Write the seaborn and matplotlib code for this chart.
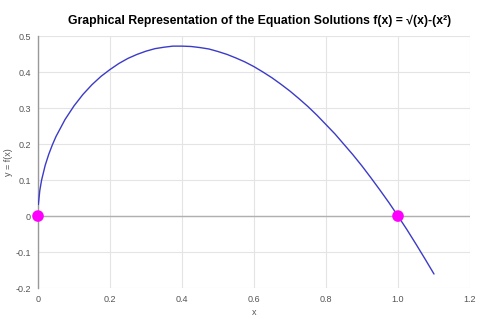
import matplotlib
matplotlib.use("Agg")
import matplotlib.pyplot as plt
import seaborn as sns
import pandas as pd

# Curve points
x_vals = [0.001, 0.005, 0.01, 0.02, 0.03, 0.04, 0.05, 0.075, 0.1, 0.125, 0.15, 0.175,
          0.2, 0.225, 0.25, 0.275, 0.3, 0.325, 0.35, 0.375, 0.4, 0.425, 0.45, 0.475,
          0.5, 0.525, 0.55, 0.575, 0.6, 0.625, 0.65, 0.675, 0.7, 0.725, 0.75, 0.775,
          0.8, 0.825, 0.85, 0.875, 0.9, 0.925, 0.95, 0.975, 1.0, 1.025, 1.05, 1.075, 1.1]
y_vals = [0.032, 0.071, 0.100, 0.141, 0.172, 0.198, 0.221, 0.268, 0.306, 0.338,
          0.365, 0.388, 0.407, 0.424, 0.438, 0.449, 0.458, 0.465, 0.469, 0.472,
          0.472, 0.471, 0.468, 0.464, 0.457, 0.449, 0.439, 0.428, 0.415, 0.400,
          0.384, 0.366, 0.347, 0.326, 0.304, 0.280, 0.254, 0.228, 0.199, 0.170,
          0.139, 0.106, 0.072, 0.037, 0.0, -0.038, -0.078, -0.119, -0.161]
# Solutions
sol_x = [0.0, 1.0]
sol_y = [0.0, 0.0]

x_ticks = [0, 0.2, 0.4, 0.6, 0.8, 1.0, 1.2]
x_tick_labels = ["0", "0.2", "0.4", "0.6", "0.8", "1.0", "1.2"]
y_ticks = [-0.2, -0.1, 0, 0.1, 0.2, 0.3, 0.4, 0.5]
y_tick_labels = ["-0.2", "-0.1", "0", "0.1", "0.2", "0.3", "0.4", "0.5"]

sns.set_style("white")
plt.rcParams['font.family'] = ['Liberation Sans', 'DejaVu Sans']

fig = plt.figure(figsize=(5.0, 3.19), dpi=100)
ax = fig.add_axes([0.076, 0.097, 0.864, 0.790])

curve = pd.DataFrame({"x": x_vals, "y": y_vals})
sols = pd.DataFrame({"x": sol_x, "y": sol_y})

ax.set_xlim(0, 1.2)
ax.set_ylim(-0.2, 0.5)
ax.set_xticks(x_ticks)
ax.set_xticklabels(x_tick_labels)
ax.set_yticks(y_ticks)
ax.set_yticklabels(y_tick_labels)
ax.grid(True, color="#e4e4e4", linewidth=0.8)
ax.set_axisbelow(True)
ax.axhline(0, color="#b0b0b0", linewidth=1.0, zorder=1)

sns.lineplot(data=curve, x="x", y="y", ax=ax, color="#3b3bc8", linewidth=1.0,
             sort=False, zorder=3)
sns.scatterplot(data=sols, x="x", y="y", ax=ax, color="#ff00ff", s=70,
                edgecolor="none", zorder=4, clip_on=False)

for s in ["top", "right", "bottom"]:
    ax.spines[s].set_visible(False)
ax.spines["left"].set_color("#999999")
ax.spines["left"].set_linewidth(1.0)

ax.tick_params(axis="both", length=0, labelsize=6.5, labelcolor="#555555", pad=5)
ax.set_xlabel("x", fontsize=6.5, color="#555555", labelpad=3)
ax.set_ylabel("y = f(x)", fontsize=6.5, color="#555555", labelpad=2)

fig.text(0.52, 0.935, "Graphical Representation of the Equation Solutions f(x) = \u221a(x)-(x\u00b2)",
         ha="center", va="center", fontsize=8.8, fontweight="bold", color="#000000")

fig.savefig("out.png", dpi=100)
